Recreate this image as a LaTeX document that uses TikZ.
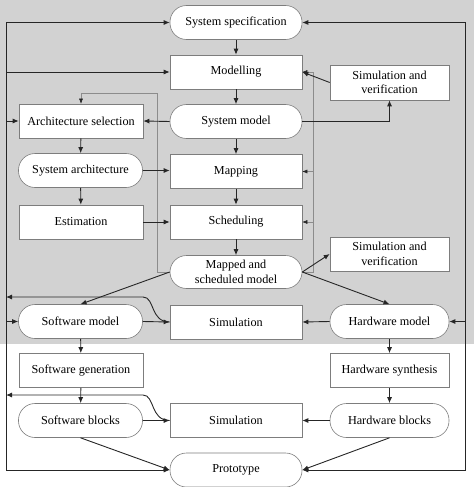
\documentclass[tikz,border=0pt]{standalone}
\usepackage{fontspec}
\setmainfont{Liberation Serif}
\usetikzlibrary{arrows.meta}
\definecolor{bg}{RGB}{210,210,210}
\definecolor{edge}{RGB}{125,125,125}
\definecolor{thinc}{RGB}{140,140,140}
\begin{document}
\begin{tikzpicture}[x=1pt,y=-1pt,
 box/.style={draw=edge, line width=0.6pt, fill=white, minimum height=34pt, inner sep=1pt,
   font=\fontsize{12.2}{14.5}\selectfont, align=center},
 rbox/.style={box, rounded corners=16.5pt},
 wc/.style={minimum width=132pt},
 wl/.style={minimum width=124pt},
 wr/.style={minimum width=119pt},
 tip/.tip={Latex[length=6pt,width=5pt]},
 arr/.style={-tip, line width=0.9pt, draw=black!85},
 arrboth/.style={tip-tip, line width=0.9pt, draw=black!85},
 fb/.style={-{Latex[length=5pt,width=4pt,color=black!85]}, line width=0.5pt, draw=thinc}]
\useasboundingbox (0,0) rectangle (474,487);
\fill[bg] (0,0) rectangle (474,344);

% nodes
\node[rbox,wc] (spec) at (236,22.5) {System specification};
\node[box,wc] (model) at (236,72) {Modelling};
\node[box,wr,minimum height=35pt] (sv1) at (389.5,82.5) {Simulation and\\verification};
\node[rbox,wc] (sysm) at (236,121.5) {System model};
\node[box,wl] (arch) at (81,121) {Architecture selection};
\node[rbox,wl] (sysa) at (80.5,170.5) {System architecture};
\node[box,wc] (map) at (236,171.5) {Mapping};
\node[box,wl] (est) at (81,222) {Estimation};
\node[box,wc] (sched) at (236,222) {Scheduling};
\node[rbox,wc,minimum height=33pt] (mapped) at (236,272) {Mapped and\\scheduled model};
\node[box,wr] (sv2) at (389.5,254) {Simulation and\\verification};
\node[rbox,wl] (swm) at (80.5,321.5) {Software model};
\node[box,wc] (sim1) at (236,322) {Simulation};
\node[rbox,wr] (hwm) at (389.5,321.5) {Hardware model};
\node[box,wl] (swg) at (81,370.5) {Software generation};
\node[box,wr] (hws) at (389.5,370.5) {Hardware synthesis};
\node[rbox,wl] (swb) at (80.5,420.5) {Software blocks};
\node[box,wc] (sim2) at (236,420.5) {Simulation};
\node[rbox,wr] (hwb) at (389.5,420.5) {Hardware blocks};
\node[rbox,wc] (proto) at (236,470) {Prototype};

% loop corners
\coordinate (L1) at (6,22.5);
\coordinate (L2) at (6,470);
\coordinate (R1) at (465,22.5);
\coordinate (R2) at (465,470);
\coordinate (C1) at (6,297);
\coordinate (C1b) at (143,297);
\coordinate (C2) at (6,395);
\coordinate (C2b) at (143,395);
\coordinate (T1) at (157,272);
\coordinate (T2) at (157,93);
\coordinate (T4) at (313,272);
\coordinate (T5) at (313,72);

% thin feedback lines
\draw[fb] (mapped.west) -- (T1) -- (T2) -- (arch.north |- T2) -- (arch.north);
\draw[fb] (mapped.east) -- (T4) -- (T5) -- (model.east);
\draw[fb] (map.east -| T4) -- (map.east);
\draw[fb] (sched.east -| T4) -- (sched.east);

% outer loops
\draw[arrboth] (spec.west) -- (L1) -- (L2) -- (proto.west);
\draw[arr] (model.west -| L1) -- (model.west);
\draw[arr] (arch.west -| L1) -- (arch.west);
\draw[arr] (swm.west -| L1) -- (swm.west);
\draw[arrboth] (spec.east) -- (R1) -- (R2) -- (proto.east);
\draw[arr] (hwm.east -| R1) -- (hwm.east);

% curved feedback
\draw[arr] (sim1.west) .. controls (150,322) and (155,297) .. (C1b) -- (C1);
\draw[arr] (sim2.west) .. controls (150,420.5) and (155,395) .. (C2b) -- (C2);

% main arrows
\draw[arr] (spec) -- (model);
\draw[arr] (model) -- (sysm);
\draw[arr] (sysm) -- (map);
\draw[arr] (map) -- (sched);
\draw[arr] (sched) -- (mapped);
\draw[arr] (arch) -- (sysa);
\draw[arr] (sysa) -- (est);
\draw[arr] (sysm.west) -- (arch.east);
\draw[arr] (sysa.east) -- (sysa.east -| map.west);
\draw[arr] (est.east) -- (sched.west);
\draw[arr] (sysm.east) -| (sv1.south);
\draw[arr] (sv1.west) -- (model.east);
\draw[arr] (mapped.west) -- (swm.north);
\draw[arr] (mapped.east) -- (hwm.north);
\draw[arr] (mapped.east) -- (sv2.west);
\draw[arr] (swm.east) -- (sim1.west);
\draw[arr] (hwm.west) -- (sim1.east);
\draw[arr] (swm) -- (swg);
\draw[arr] (swg) -- (swb);
\draw[arr] (hwm) -- (hws);
\draw[arr] (hws) -- (hwb);
\draw[arr] (swb.east) -- (sim2.west);
\draw[arr] (hwb.west) -- (sim2.east);
\draw[arr] (swb.south) -- (proto.west);
\draw[arr] (hwb.south) -- (proto.east);
\end{tikzpicture}
\end{document}
